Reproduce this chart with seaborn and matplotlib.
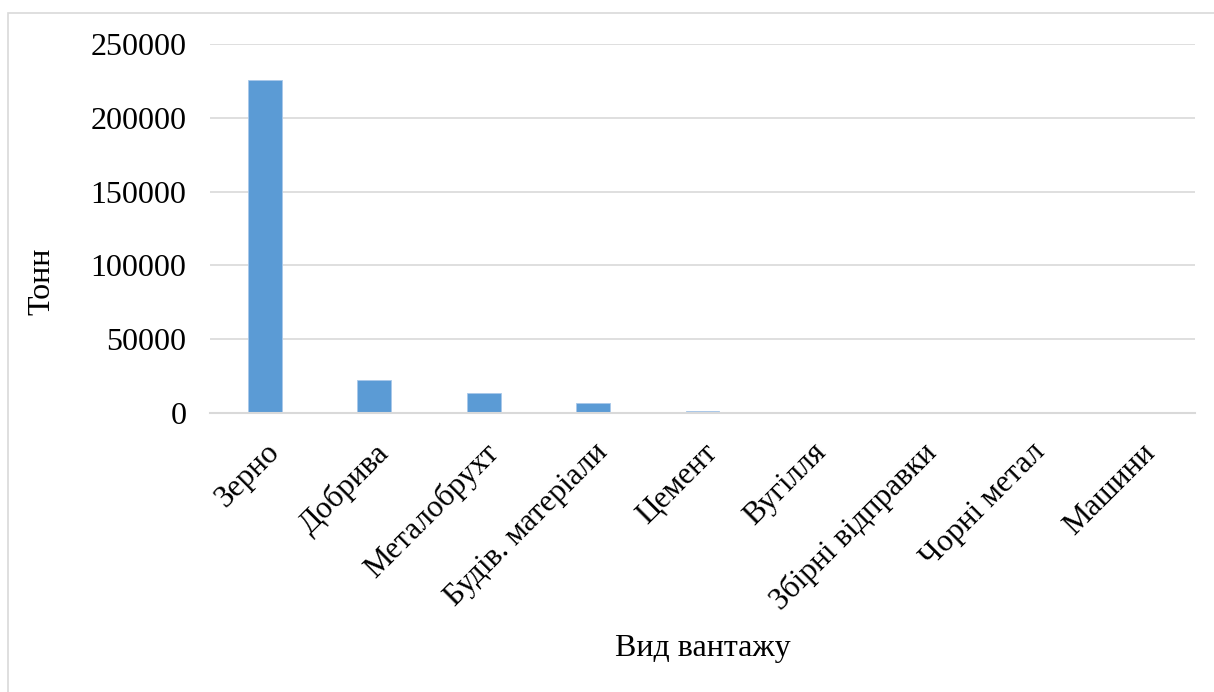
import matplotlib
matplotlib.use("Agg")
import matplotlib.pyplot as plt
import seaborn as sns
import pandas as pd
from matplotlib.patches import Rectangle

categories = ["Зерно", "Добрива", "Металобрухт", "Будів. матеріали", "Цемент",
              "Вугілля", "Збірні відправки", "Чорні метал", "Машини"]
values = [225500, 22500, 13500, 6800, 1400, 150, 60, 30, 10]
yticks = [0, 50000, 100000, 150000, 200000, 250000]

df = pd.DataFrame({"cat": categories, "val": values})

sns.set_theme(style="white")
plt.rcParams["font.family"] = ["Liberation Serif", "DejaVu Serif"]
plt.rcParams["text.color"] = "black"
plt.rcParams["axes.labelcolor"] = "black"
plt.rcParams["xtick.color"] = "black"
plt.rcParams["ytick.color"] = "black"

FS = 23
fig = plt.figure(figsize=(12.14, 6.92), dpi=100)
ax = fig.add_axes([210/1214, 1-413/692, (1195-210)/1214, (413-44)/692])

sns.barplot(data=df, x="cat", y="val", color="#5b9bd5", width=0.31, ax=ax,
            saturation=1, edgecolor="#a9c8ea", linewidth=0.6)

ax.set_ylim(0, 250000)
ax.set_xlim(-0.5, len(categories) - 0.5)
ax.set_yticks(yticks)
ax.set_yticklabels([str(v) for v in yticks], fontsize=FS)
ax.yaxis.grid(True, color="#d9d9d9", linewidth=1.2)
ax.set_axisbelow(True)
for s in ["left", "right", "top"]:
    ax.spines[s].set_visible(False)
ax.spines["bottom"].set_color("#d9d9d9")
ax.spines["bottom"].set_linewidth(1.5)
ax.tick_params(axis="y", length=0, pad=17)
ax.tick_params(axis="x", length=0, pad=18)
ax.set_xticks(range(len(categories)))
ax.set_xticklabels(categories, rotation=45, ha="right", rotation_mode="anchor",
                   fontsize=22.5)
ax.set_ylabel("Тонн", fontsize=FS)
ax.yaxis.set_label_coords(-168/985, 0.5 + (228.5 - 285) / 369 + 0.01)
ax.set_xlabel("Вид вантажу", fontsize=FS)
ax.xaxis.set_label_coords(0.5, -(648 - 413) / 369)
ax.xaxis.label.set_va("center")
ax.yaxis.label.set_va("center")

fig.patches.append(Rectangle((8/1214, -0.05), 1.2, 1 - 13/692 + 0.05, transform=fig.transFigure,
                             fill=False, edgecolor="#d9d9d9", linewidth=1.2))

fig.savefig("out.png", dpi=100)
